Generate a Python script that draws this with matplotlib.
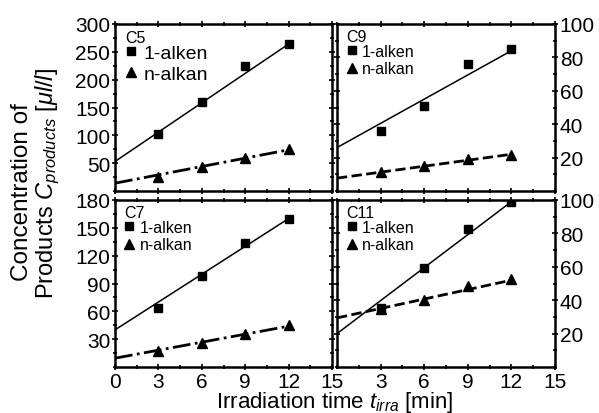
import numpy as np
import matplotlib.pyplot as plt
from matplotlib.ticker import MultipleLocator
from matplotlib.lines import Line2D

plt.rcParams['font.family'] = ['Liberation Sans', 'DejaVu Sans']
plt.rcParams['mathtext.fontset'] = 'custom'
plt.rcParams['mathtext.rm'] = 'Liberation Sans'
plt.rcParams['mathtext.it'] = 'Liberation Sans:italic'

# ------ datos ------
t = [3, 6, 9, 12]

c5_alken = [102, 160, 225, 264]
c5_alkan = [26, 44, 60, 75]
c7_alken = [64, 98, 134, 160]
c7_alkan = [17, 26, 36, 45]
c9_alken = [36, 51, 76, 85]
c9_alkan = [11.5, 15, 19, 21.6]
c11_alken = [35.6, 59.4, 82.4, 99]
c11_alkan = [35, 40, 48.6, 52.4]

# rectas de ajuste (valor en t=0 y t=12)
fit_t = [0, 12]
c5_fit_alken = [53, 264]
c5_fit_alkan = [14, 74]
c7_fit_alken = [40, 160]
c7_fit_alkan = [9.5, 44]
c9_fit_alken = [26, 84]
c9_fit_alkan = [7.7, 22]
c11_fit_alken = [20, 99]
c11_fit_alkan = [29.4, 52]

fig = plt.figure(figsize=(5.99, 4.14), dpi=100)

W, H = 599, 414
def px_axes(x0, y0, x1, y1):
    return fig.add_axes([x0 / W, 1 - y1 / H, (x1 - x0) / W, (y1 - y0) / H])

ax_c5 = px_axes(115, 25, 332, 192)
ax_c9 = px_axes(337, 25, 555, 192)
ax_c7 = px_axes(115, 201, 332, 368)
ax_c11 = px_axes(337, 201, 555, 368)

paneles = [
    (ax_c5, 'C5', c5_alken, c5_alkan, c5_fit_alken, c5_fit_alkan, (0, 300), 50, 25, '-.', 14),
    (ax_c9, 'C9', c9_alken, c9_alkan, c9_fit_alken, c9_fit_alkan, (0, 100), 20, 10, '--', 11.5),
    (ax_c7, 'C7', c7_alken, c7_alkan, c7_fit_alken, c7_fit_alkan, (0, 180), 30, 15, '-.', 11.5),
    (ax_c11, 'C11', c11_alken, c11_alkan, c11_fit_alken, c11_fit_alkan, (0, 100), 20, 10, '--', 11.5),
]

for ax, nombre, alken, alkan, f_alken, f_alkan, ylim, major, minor, ls, lfs in paneles:
    ax.plot(fit_t, f_alken, color='black', linewidth=1.1, linestyle='-')
    ax.plot(fit_t, f_alkan, color='black', linewidth=2.0, linestyle=ls)
    ax.plot(t, alken, linestyle='none', marker='s', markersize=6.3, color='black')
    ax.plot(t, alkan, linestyle='none', marker='^', markersize=7.5, color='black')
    ax.set_xlim(0, 15)
    ax.set_ylim(*ylim)
    ax.xaxis.set_major_locator(MultipleLocator(3))
    ax.xaxis.set_minor_locator(MultipleLocator(1.5))
    ax.yaxis.set_major_locator(MultipleLocator(major))
    ax.yaxis.set_minor_locator(MultipleLocator(minor))
    ax.tick_params(which='both', direction='inout', top=True, right=True,
                   labelsize=15, width=1.2, pad=1)
    ax.tick_params(which='major', length=5)
    ax.tick_params(which='minor', length=3)
    for s in ax.spines.values():
        s.set_linewidth(1.8)

    handles = [Line2D([], [], linestyle='none', marker='s', markersize=5.5, color='black'),
               Line2D([], [], linestyle='none', marker='^', markersize=6.5, color='black')]
    leg = ax.legend(handles, ['1-alken', 'n-alkan'], loc='upper left',
                    bbox_to_anchor=(0.03, 0.99), frameon=False,
                    title=nombre, title_fontsize=11.5, fontsize=lfs, alignment='left',
                    handlelength=0.6, handletextpad=0.35, borderaxespad=0.0,
                    borderpad=0.2, labelspacing=0.15)
    leg._legend_box.sep = 0

# etiquetas de los ejes
for ax in (ax_c5, ax_c9):
    ax.tick_params(labelbottom=False)
for ax in (ax_c9, ax_c11):
    ax.tick_params(labelleft=False, labelright=True)
    ax.set_xticks([3, 6, 9, 12, 15])
for ax, ylim, major in ((ax_c5, 300, 50), (ax_c7, 180, 30), (ax_c9, 100, 20), (ax_c11, 100, 20)):
    ax.set_yticks(np.arange(major, ylim + 1, major))

fig.text(22 / W, 1 - 192 / H, 'Concentration of', rotation=90, ha='center', va='center', fontsize=17.5)
fig.text(48 / W, 1 - 184 / H, r'Products $C_{products}$ [$\mu l/l$]', rotation=90,
         ha='center', va='center', fontsize=17)
fig.text(335 / W, 1 - 408 / H, r'Irradiation time $t_{irra}$ [min]', ha='center', va='baseline',
         fontsize=16)

plt.savefig('out.png', dpi=100)
